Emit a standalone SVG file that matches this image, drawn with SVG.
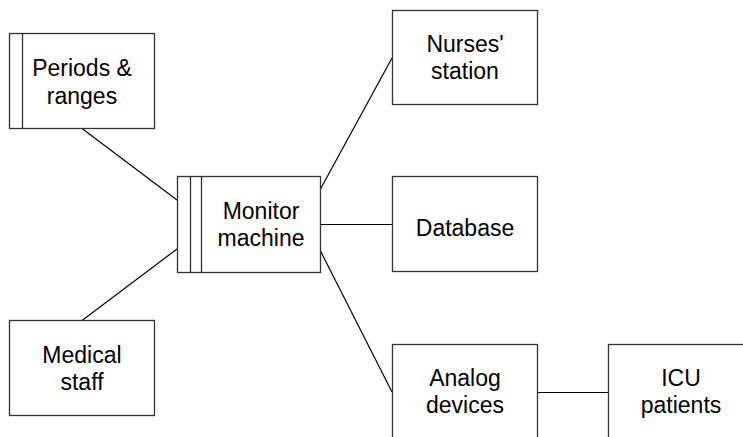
<svg xmlns="http://www.w3.org/2000/svg" width="743" height="437" viewBox="0 0 743 437">
<style>
rect.box{fill:#fff;stroke:#333;stroke-width:1.3}
line.div{stroke:#333;stroke-width:1.3}
#connectors line{stroke:#000;stroke-width:1.2}
text{font-family:"Liberation Sans",Arial,sans-serif;font-size:23px;fill:#000;text-anchor:middle}
</style>
<rect width="743" height="437" fill="#fff"/>
<g id="connectors">
<line x1="82" y1="128.5" x2="177" y2="200"/>
<line x1="82" y1="320.5" x2="177" y2="249"/>
<line x1="320.5" y1="189" x2="392" y2="58"/>
<line x1="320.5" y1="224.5" x2="392" y2="224.5"/>
<line x1="320.5" y1="251" x2="392" y2="392"/>
<line x1="537" y1="392.5" x2="608" y2="392.5"/>
</g>
<g id="periods">
<rect class="box" x="9.5" y="33.5" width="145" height="95"/>
<line class="div" x1="22.5" y1="33.5" x2="22.5" y2="128.5"/>
<text x="82" y="76">Periods &amp;</text>
<text x="82" y="104">ranges</text>
</g>
<g id="monitor">
<rect class="box" x="177.5" y="176.5" width="143" height="96"/>
<line class="div" x1="190.5" y1="176.5" x2="190.5" y2="272.5"/>
<line class="div" x1="201.5" y1="176.5" x2="201.5" y2="272.5"/>
<text x="261" y="219">Monitor</text>
<text x="261" y="246">machine</text>
</g>
<g id="medical">
<rect class="box" x="9.5" y="320.5" width="145" height="95"/>
<text x="82" y="363">Medical</text>
<text x="82" y="390">staff</text>
</g>
<g id="nurses">
<rect class="box" x="392.5" y="10.5" width="145" height="94"/>
<text x="465" y="52">Nurses'</text>
<text x="465" y="79">station</text>
</g>
<g id="database">
<rect class="box" x="392.5" y="176.5" width="145" height="95"/>
<text x="465" y="236">Database</text>
</g>
<g id="analog">
<rect class="box" x="392.5" y="344.5" width="145" height="96"/>
<text x="465" y="386">Analog</text>
<text x="465" y="413">devices</text>
</g>
<g id="icu">
<rect class="box" x="608.5" y="344.5" width="145" height="96"/>
<text x="681" y="386">ICU</text>
<text x="681" y="413">patients</text>
</g>
</svg>
